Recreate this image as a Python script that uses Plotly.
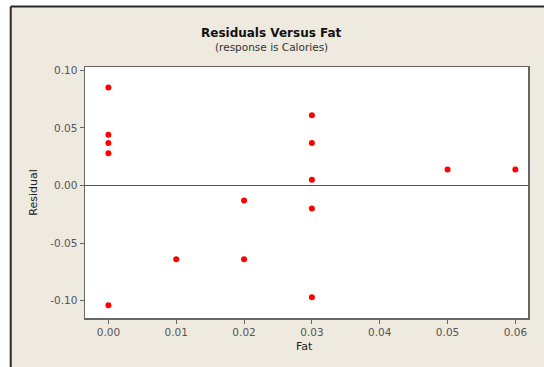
import plotly.graph_objects as go

fat = [0.00, 0.00, 0.00, 0.00, 0.00, 0.01, 0.02, 0.02, 0.03, 0.03, 0.03, 0.03, 0.03, 0.05, 0.06]
residual = [0.085, 0.044, 0.037, 0.028, -0.104, -0.064, -0.013, -0.064,
            0.061, 0.037, 0.005, -0.020, -0.097, 0.014, 0.014]

x_ticks = [0.00, 0.01, 0.02, 0.03, 0.04, 0.05, 0.06]
x_labels = ["0.00", "0.01", "0.02", "0.03", "0.04", "0.05", "0.06"]
y_ticks = [-0.10, -0.05, 0.00, 0.05, 0.10]
y_labels = ["-0.10", "-0.05", "0.00", "0.05", "0.10"]

BG = "#EEEAE0"
FONT = "DejaVu Sans"

fig = go.Figure()
fig.add_trace(go.Scatter(
    x=fat, y=residual, mode="markers",
    marker=dict(color="#FF0000", size=6, line=dict(width=0)),
    hoverinfo="skip", showlegend=False,
))

fig.update_layout(
    width=544, height=367,
    margin=dict(l=85, r=16, t=67, b=49),
    paper_bgcolor=BG, plot_bgcolor="white",
    font=dict(family=FONT, size=10.5, color="#555555"),
    xaxis=dict(range=[-0.00345, 0.06186], tickvals=x_ticks, ticktext=x_labels,
               showgrid=False, zeroline=False, showline=True, mirror=True,
               linecolor="#666666", linewidth=1.5, ticks="outside", ticklen=4,
               tickcolor="#666666", tickfont=dict(family=FONT, size=10.5, color="#555555")),
    yaxis=dict(range=[-0.115, 0.10286], tickvals=y_ticks, ticktext=y_labels,
               showgrid=False, zeroline=True, zerolinecolor="#555555", zerolinewidth=1,
               showline=True, mirror=True,
               linecolor="#666666", linewidth=1.5, ticks="outside", ticklen=4,
               tickcolor="#666666", tickfont=dict(family=FONT, size=10.5, color="#555555")),
    shapes=[
        dict(type="rect", xref="paper", yref="paper", x0=-0.25, x1=-0.169, y0=-0.3, y1=1.4,
             fillcolor="white", line=dict(width=0), layer="above"),
        dict(type="rect", xref="paper", yref="paper", x0=-0.25, x1=1.2, y0=1.243, y1=1.4,
             fillcolor="white", line=dict(width=0), layer="above"),
        dict(type="line", xref="paper", yref="paper", x0=-0.1677, x1=-0.1677, y0=-0.3, y1=1.241,
             line=dict(color="#2a2a2a", width=2), layer="above"),
        dict(type="line", xref="paper", yref="paper", x0=-0.1677, x1=1.2, y0=1.241, y1=1.241,
             line=dict(color="#2a2a2a", width=2), layer="above"),
    ],
    annotations=[
        dict(text="<b>Residuals Versus Fat</b>", xref="paper", yref="paper", x=0.420, y=1.134,
             xanchor="center", yanchor="middle", showarrow=False,
             font=dict(family=FONT, size=12, color="#111111")),
        dict(text="(response is Calories)", xref="paper", yref="paper", x=0.420, y=1.0795,
             xanchor="center", yanchor="middle", showarrow=False,
             font=dict(family=FONT, size=10.5, color="#333333")),
        dict(text="Fat", xref="paper", yref="paper", x=0.496, y=-0.113,
             xanchor="center", yanchor="middle", showarrow=False,
             font=dict(family=FONT, size=11, color="#222222")),
        dict(text="Residual", xref="paper", yref="paper", x=-0.118, y=0.498,
             xanchor="center", yanchor="middle", showarrow=False, textangle=-90,
             font=dict(family=FONT, size=11, color="#222222")),
    ],
)

fig.write_html("out.html", config={"displayModeBar": False, "staticPlot": True},
               post_script="document.body.style.margin='0';document.body.style.overflow='hidden';")
